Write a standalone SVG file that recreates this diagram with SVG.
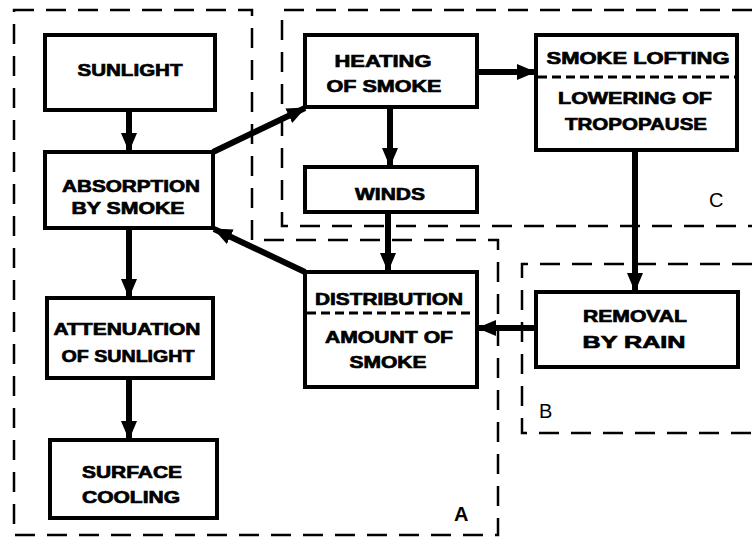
<svg xmlns="http://www.w3.org/2000/svg" width="752" height="544" viewBox="0 0 752 544">
<style>
.box{fill:#fff;stroke:#000;stroke-width:4;}
.t{font-family:"Liberation Sans",Arial,sans-serif;font-weight:bold;font-size:17px;fill:#000;stroke:#000;stroke-width:0.7;text-anchor:middle;}
.reg{fill:none;stroke:#000;stroke-width:2.5;stroke-dasharray:20 12;}
.div{stroke:#000;stroke-width:3;stroke-dasharray:9 5;}
.arr{stroke:#000;stroke-width:6;fill:none;marker-end:url(#ah);}
.lbl{font-family:"Liberation Sans",Arial,sans-serif;font-size:20px;fill:#000;}
</style>
<defs>
<marker id="ah" markerUnits="userSpaceOnUse" markerWidth="20" markerHeight="20" viewBox="0 0 20 20" refX="18" refY="10" orient="auto">
<path d="M0,2 L19,10 L0,18 Z" fill="#000"/>
</marker>
</defs>
<rect width="752" height="544" fill="#fff"/>
<g id="regions">
<path class="reg" d="M14 10 H252 V240 H498 V535 H14 Z"/>
<path class="reg" d="M752 10 H282 V226 H752"/>
<path class="reg" d="M752 264 H522 V433 H752"/>
<text class="lbl" x="709" y="207">C</text>
<text class="lbl" x="539" y="418">B</text>
<text class="lbl" x="454" y="521" font-weight="bold">A</text>
</g>
<g id="connectors">
<line class="arr" x1="129" y1="110" x2="129" y2="151"/>
<line class="arr" x1="129" y1="228" x2="129" y2="297"/>
<line class="arr" x1="129" y1="378" x2="129" y2="439"/>
<line class="arr" x1="213" y1="152" x2="305" y2="108"/>
<line class="arr" x1="390" y1="107" x2="390" y2="166"/>
<line class="arr" x1="388" y1="212" x2="388" y2="271"/>
<line class="arr" x1="305" y1="272" x2="214" y2="229"/>
<line class="arr" x1="477" y1="72" x2="535" y2="72"/>
<line class="arr" x1="635" y1="150" x2="635" y2="291"/>
<line class="arr" x1="536" y1="328" x2="478" y2="328"/>
</g>
<g id="sunlight">
<rect class="box" x="45" y="35" width="170" height="75"/>
<text class="t" x="130" y="76" textLength="105" lengthAdjust="spacingAndGlyphs">SUNLIGHT</text>
</g>
<g id="absorption">
<rect class="box" x="45" y="152" width="168" height="76"/>
<text class="t" x="131" y="192" textLength="138" lengthAdjust="spacingAndGlyphs">ABSORPTION</text>
<text class="t" x="128" y="214" textLength="113" lengthAdjust="spacingAndGlyphs">BY SMOKE</text>
</g>
<g id="attenuation">
<rect class="box" x="47" y="298" width="166" height="80"/>
<text class="t" x="127" y="335" textLength="147" lengthAdjust="spacingAndGlyphs">ATTENUATION</text>
<text class="t" x="128" y="362" textLength="133" lengthAdjust="spacingAndGlyphs">OF SUNLIGHT</text>
</g>
<g id="surface">
<rect class="box" x="50" y="440" width="167" height="78"/>
<text class="t" x="132" y="478" textLength="100" lengthAdjust="spacingAndGlyphs">SURFACE</text>
<text class="t" x="131" y="503" textLength="98" lengthAdjust="spacingAndGlyphs">COOLING</text>
</g>
<g id="heating">
<rect class="box" x="305" y="35" width="172" height="72"/>
<text class="t" x="383" y="67" textLength="97" lengthAdjust="spacingAndGlyphs">HEATING</text>
<text class="t" x="384" y="92" textLength="115" lengthAdjust="spacingAndGlyphs">OF SMOKE</text>
</g>
<g id="winds">
<rect class="box" x="305" y="167" width="172" height="45"/>
<text class="t" x="390" y="200" textLength="70" lengthAdjust="spacingAndGlyphs">WINDS</text>
</g>
<g id="distribution">
<rect class="box" x="305" y="272" width="172" height="115"/>
<line class="div" x1="307" y1="313" x2="475" y2="313"/>
<text class="t" x="389" y="305" textLength="148" lengthAdjust="spacingAndGlyphs">DISTRIBUTION</text>
<text class="t" x="389" y="343" textLength="128" lengthAdjust="spacingAndGlyphs">AMOUNT OF</text>
<text class="t" x="388" y="368" textLength="77" lengthAdjust="spacingAndGlyphs">SMOKE</text>
</g>
<g id="lofting">
<rect class="box" x="536" y="35" width="201" height="115"/>
<line class="div" x1="538" y1="77" x2="735" y2="77"/>
<text class="t" x="638" y="64" textLength="183" lengthAdjust="spacingAndGlyphs">SMOKE LOFTING</text>
<text class="t" x="635" y="104" textLength="154" lengthAdjust="spacingAndGlyphs">LOWERING OF</text>
<text class="t" x="636" y="130" textLength="142" lengthAdjust="spacingAndGlyphs">TROPOPAUSE</text>
</g>
<g id="removal">
<rect class="box" x="536" y="292" width="202" height="75"/>
<text class="t" x="635" y="322" textLength="104" lengthAdjust="spacingAndGlyphs">REMOVAL</text>
<text class="t" x="634" y="348" textLength="103" lengthAdjust="spacingAndGlyphs">BY RAIN</text>
</g>
</svg>
